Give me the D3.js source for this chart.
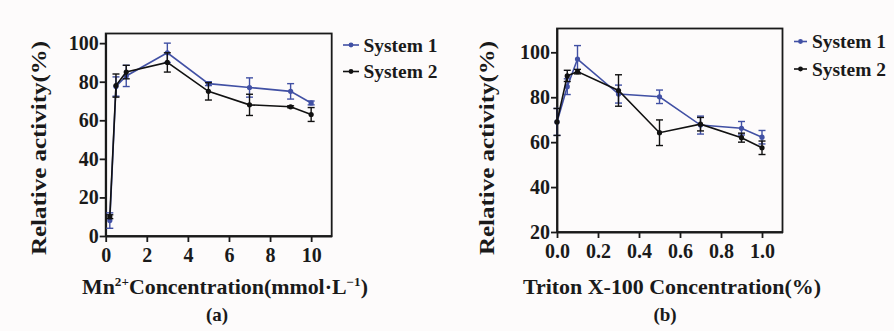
<!DOCTYPE html>
<html><head><meta charset="utf-8">
<script src="https://cdn.jsdelivr.net/npm/d3@7"></script>
<style>
html,body{margin:0;padding:0;background:#fdfbfb;}
text{font-family:"Liberation Serif","Times New Roman",serif;font-weight:bold;fill:#1a1a1a;}
</style></head>
<body>
<svg id="chart" width="894" height="331"></svg>
<script>
// Panel (a): Mn2+ concentration
const mnX = [0.2, 0.5, 1, 3, 5, 7, 9, 10];
const mnSys1 = [8, 77.5, 83, 95, 79, 77, 75, 69];
const mnSys1Err = [4, 5, 5.5, 5, 1, 5, 4, 1];
const mnSys2 = [10, 78, 85, 90, 75, 68, 67, 63];
const mnSys2Err = [1, 6, 3.5, 5, 4.5, 5.5, 0.5, 3.6];
const mnXTicks = [0, 2, 4, 6, 8, 10];
const mnYTicks = [0, 20, 40, 60, 80, 100];

// Panel (b): Triton X-100 concentration
const trX = [0, 0.05, 0.1, 0.3, 0.5, 0.7, 0.9, 1.0];
const trSys1 = [69, 84.7, 97, 81.4, 80.2, 67.6, 66.2, 62.2];
const trSys1Err = [6, 3.5, 6, 4, 3, 4, 3, 3];
const trSys2 = [69, 89.5, 91.4, 83, 64.2, 68, 62, 57.5];
const trSys2Err = [6, 2.5, 1, 7, 5.7, 3, 2, 3];
const trXTicks = [0, 0.2, 0.4, 0.6, 0.8, 1.0];
const trYTicks = [20, 40, 60, 80, 100];

const seriesNames = ["System 1", "System 2"];
const colors = ["#4150a4", "#111111"];

const svg = d3.select("#chart");

function panel(cfg) {
  const x = d3.scaleLinear().domain(cfg.xDomain).range(cfg.xRange);
  const y = d3.scaleLinear().domain(cfg.yDomain).range(cfg.yRange);
  const g = svg.append("g");
  g.append("rect").attr("x", cfg.xRange[0]).attr("y", cfg.yRange[1])
    .attr("width", cfg.xRange[1] - cfg.xRange[0]).attr("height", cfg.yRange[0] - cfg.yRange[1])
    .attr("fill", "none").attr("stroke", "#1a1a1a").attr("stroke-width", 1.8);
  const xa = g.append("g").attr("transform", `translate(0,${cfg.yRange[0]})`)
    .call(d3.axisBottom(x).tickValues(cfg.xTicks).tickFormat(cfg.xFmt).tickSizeOuter(0).tickSizeInner(6).tickPadding(6));
  const ya = g.append("g").attr("transform", `translate(${cfg.xRange[0]},0)`)
    .call(d3.axisLeft(y).tickValues(cfg.yTicks).tickFormat(d3.format("d")).tickSizeOuter(0).tickSizeInner(6).tickPadding(1));
  [xa, ya].forEach(a => {
    a.select(".domain").attr("stroke", "#1a1a1a").attr("stroke-width", 1.8);
    a.selectAll(".tick line").attr("stroke", "#1a1a1a").attr("stroke-width", 1.8);
    a.selectAll("text").attr("font-family", "Liberation Serif").attr("font-weight", "bold")
      .attr("font-size", 20).attr("fill", "#1a1a1a");
  });
  const series = [[cfg.s1, cfg.e1], [cfg.s2, cfg.e2]];
  const line = d3.line().x(d => x(d[0])).y(d => y(d[1]));
  series.forEach(([vals, errs], i) => {
    const pts = cfg.xs.map((xv, j) => [xv, vals[j], errs[j]]);
    const c = colors[i];
    g.append("path").datum(pts).attr("d", line).attr("fill", "none")
      .attr("stroke", c).attr("stroke-width", 1.6);
    const eg = g.append("g").attr("stroke", c).attr("stroke-width", 1.4);
    pts.forEach(p => {
      const cx = x(p[0]);
      eg.append("line").attr("x1", cx).attr("x2", cx).attr("y1", y(p[1] - p[2])).attr("y2", y(p[1] + p[2]));
      eg.append("line").attr("x1", cx - 3.5).attr("x2", cx + 3.5).attr("y1", y(p[1] - p[2])).attr("y2", y(p[1] - p[2]));
      eg.append("line").attr("x1", cx - 3.5).attr("x2", cx + 3.5).attr("y1", y(p[1] + p[2])).attr("y2", y(p[1] + p[2]));
    });
    g.append("g").selectAll("circle").data(pts).join("circle")
      .attr("cx", d => x(d[0])).attr("cy", d => y(d[1])).attr("r", 2.6).attr("fill", c);
  });
  seriesNames.forEach((n, i) => {
    const ly = cfg.legY[i];
    g.append("line").attr("x1", cfg.legX).attr("x2", cfg.legX + cfg.legLen).attr("y1", ly).attr("y2", ly)
      .attr("stroke", colors[i]).attr("stroke-width", 1.6);
    g.append("circle").attr("cx", cfg.legX + cfg.legLen / 2).attr("cy", ly).attr("r", 2.4).attr("fill", colors[i]);
    g.append("text").attr("x", cfg.legTextX).attr("y", ly).attr("dy", "0.35em")
      .attr("font-size", 19).attr("textLength", 74).attr("lengthAdjust", "spacingAndGlyphs").text(n);
  });
  g.append("text").attr("transform", `translate(${cfg.yTitleX},${cfg.yTitleY}) rotate(-90)`)
    .attr("text-anchor", "middle").attr("font-size", 22)
    .attr("textLength", 214).attr("lengthAdjust", "spacingAndGlyphs").text("Relative activity(%)");
  const xt = g.append("text").attr("x", cfg.xTitleX - cfg.xTitleW / 2).attr("y", 294).attr("font-size", 20)
    .attr("textLength", cfg.xTitleW).attr("lengthAdjust", "spacingAndGlyphs");
  cfg.xTitle(xt);
  g.append("text").attr("x", cfg.capX).attr("y", 321).attr("text-anchor", "middle").attr("font-size", 19).text(cfg.cap);
}

panel({
  xDomain: [0, 11], xRange: [105.7, 331.7], yDomain: [0, 105], yRange: [236, 33.5],
  xTicks: mnXTicks, yTicks: mnYTicks, xFmt: d3.format("d"),
  xs: mnX, s1: mnSys1, e1: mnSys1Err, s2: mnSys2, e2: mnSys2Err,
  legX: 343, legLen: 16, legTextX: 363.5, legY: [45, 71.5],
  yTitleX: 46, yTitleY: 148, xTitleX: 225, xTitleW: 286,
  xTitle: t => {
    t.append("tspan").text("Mn");
    t.append("tspan").attr("font-size", 12).attr("dy", -8).text("2+");
    t.append("tspan").attr("dy", 8).text("Concentration(mmol·L");
    t.append("tspan").attr("font-size", 12).attr("dy", -8).text("−1");
    t.append("tspan").attr("dy", 8).text(")");
  },
  capX: 217, cap: "(a)"
});

panel({
  xDomain: [0, 1.1], xRange: [557, 782.5], yDomain: [20, 110.6], yRange: [232, 28.5],
  xTicks: trXTicks, yTicks: trYTicks, xFmt: d3.format(".1f"),
  xs: trX, s1: trSys1, e1: trSys1Err, s2: trSys2, e2: trSys2Err,
  legX: 794, legLen: 13, legTextX: 812, legY: [41.5, 69],
  yTitleX: 494, yTitleY: 148, xTitleX: 672, xTitleW: 298,
  xTitle: t => t.text("Triton X-100 Concentration(%)"),
  capX: 665, cap: "(b)"
});
</script>
</body></html>
